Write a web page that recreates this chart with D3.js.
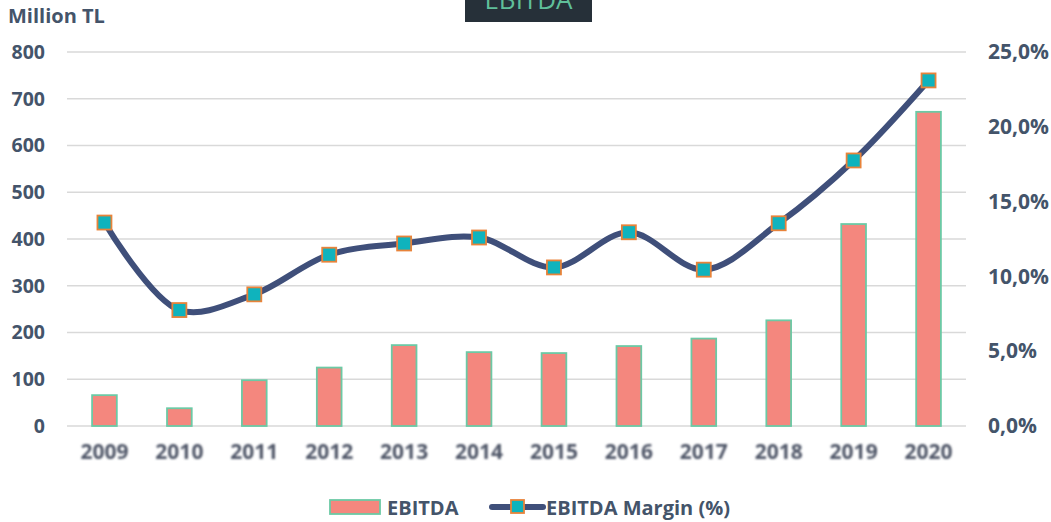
<!DOCTYPE html>
<html>
<head>
<meta charset="utf-8">
<script src="https://cdn.jsdelivr.net/npm/d3@7"></script>
<style>
  body { margin: 0; background: #fff; }
  svg text { font-family: "Open Sans", "Noto Sans", sans-serif; }
</style>
</head>
<body>
<div id="chart"></div>
<script>
// dados do gráfico
var anos = ["2009","2010","2011","2012","2013","2014","2015","2016","2017","2018","2019","2020"];
var ebitda = [66, 38, 98, 125, 173, 158, 156, 171, 187, 226, 432, 672];
var margem = [13.6, 7.75, 8.8, 11.45, 12.2, 12.6, 10.6, 12.95, 10.45, 13.55, 17.75, 23.1];
var ticksEsq = [0, 100, 200, 300, 400, 500, 600, 700, 800];
var ticksDir = [0, 5, 10, 15, 20, 25];

var W = 1051, H = 522;
var margin = {top: 52, right: 85, bottom: 96, left: 67};
var width = W - margin.left - margin.right,
    height = H - margin.top - margin.bottom;

var svg = d3.select("#chart").append("svg").attr("width", W).attr("height", H);

// filtro para o desfoque dos anos
var defs = svg.append("defs");
defs.append("filter").attr("id", "blur").attr("x", "-10%").attr("y", "-20%").attr("width", "120%").attr("height", "140%")
  .append("feGaussianBlur").attr("stdDeviation", 0.9);

var g = svg.append("g").attr("transform", "translate(" + margin.left + "," + margin.top + ")");

var x = d3.scaleBand().domain(anos).range([0, width]).paddingInner(0.67).paddingOuter(0.335);
var y = d3.scaleLinear().domain([0, 800]).range([height, 0]);
var y2 = d3.scaleLinear().domain([0, 25]).range([height, 0]);

// linhas de grade
g.selectAll(".grid").data(ticksEsq).enter().append("line")
  .attr("x1", 0).attr("x2", width)
  .attr("y1", function(d){ return y(d); }).attr("y2", function(d){ return y(d); })
  .attr("stroke", "#d9d9d9").attr("stroke-width", 1.5);

// eixo esquerdo
var eixoY = g.append("g").call(d3.axisLeft(y).tickValues(ticksEsq).tickSize(0).tickPadding(22));
eixoY.select(".domain").remove();
eixoY.selectAll("text").attr("fill", "#44546a").style("font-size", "19.5px").style("font-weight", "bold")
  .style("font-family", "'Open Sans', sans-serif");

// eixo direito
var eixoY2 = g.append("g").attr("transform", "translate(" + width + ",0)")
  .call(d3.axisRight(y2).tickValues(ticksDir).tickSize(0).tickPadding(22)
    .tickFormat(function(d){ return d.toFixed(1).replace(".", ",") + "%"; }));
eixoY2.select(".domain").remove();
eixoY2.selectAll("text").attr("fill", "#44546a").style("font-size", "21px").style("font-weight", "bold")
  .style("font-family", "'Open Sans', sans-serif");

// eixo X
var eixoX = g.append("g").attr("transform", "translate(0," + height + ")")
  .call(d3.axisBottom(x).tickSize(0).tickPadding(18));
eixoX.select(".domain").remove();
eixoX.selectAll("text").attr("fill", "#4f5668").style("font-size", "21px").style("font-weight", "bold")
  .style("font-family", "'Open Sans', sans-serif").attr("filter", "url(#blur)");

// barras
g.selectAll("rect.bar").data(ebitda).enter().append("rect").attr("class", "bar")
  .attr("x", function(d, i){ return x(anos[i]); })
  .attr("y", function(d){ return y(d); })
  .attr("width", x.bandwidth())
  .attr("height", function(d){ return height - y(d); })
  .attr("fill", "#f4877e").attr("stroke", "#6cc9a5").attr("stroke-width", 1.8);

// linha da margem
var linha = d3.line()
  .x(function(d, i){ return x(anos[i]) + x.bandwidth() / 2; })
  .y(function(d){ return y2(d); })
  .curve(d3.curveCatmullRom.alpha(0.5));
g.append("path").datum(margem).attr("d", linha)
  .attr("fill", "none").attr("stroke", "#3f4f7a").attr("stroke-width", 6).attr("stroke-linecap", "round");

// marcadores
var s = 14;
g.selectAll("rect.mk").data(margem).enter().append("rect").attr("class", "mk")
  .attr("x", function(d, i){ return x(anos[i]) + x.bandwidth() / 2 - s / 2; })
  .attr("y", function(d){ return y2(d) - s / 2; })
  .attr("width", s).attr("height", s)
  .attr("fill", "#0fb3bd").attr("stroke", "#e8833a").attr("stroke-width", 1.8);

// título da unidade
svg.append("text").attr("x", 8).attr("y", 23).text("Million TL")
  .attr("fill", "#44546a").style("font-size", "20px").style("font-weight", "bold");

// caixa do título
svg.append("rect").attr("x", 465).attr("y", -2).attr("width", 127).attr("height", 24).attr("fill", "#263039");
svg.append("text").attr("x", 528.5).attr("y", 9).attr("text-anchor", "middle").text("EBITDA")
  .attr("fill", "#5fbf9a").style("font-size", "26px");

// legenda
var leg = svg.append("g");
leg.append("rect").attr("x", 330).attr("y", 500).attr("width", 50).attr("height", 14)
  .attr("fill", "#f4877e").attr("stroke", "#6cc9a5").attr("stroke-width", 1.8);
leg.append("text").attr("x", 387).attr("y", 515).text("EBITDA")
  .attr("fill", "#44546a").style("font-size", "20px").style("font-weight", "bold");
leg.append("line").attr("x1", 492).attr("x2", 543).attr("y1", 507).attr("y2", 507)
  .attr("stroke", "#3f4f7a").attr("stroke-width", 6).attr("stroke-linecap", "round");
leg.append("rect").attr("x", 511).attr("y", 500).attr("width", 13).attr("height", 13)
  .attr("fill", "#0fb3bd").attr("stroke", "#e8833a").attr("stroke-width", 1.8);
leg.append("text").attr("x", 546).attr("y", 515).text("EBITDA Margin (%)")
  .attr("fill", "#44546a").style("font-size", "20px").style("font-weight", "bold");
</script>
</body>
</html>
